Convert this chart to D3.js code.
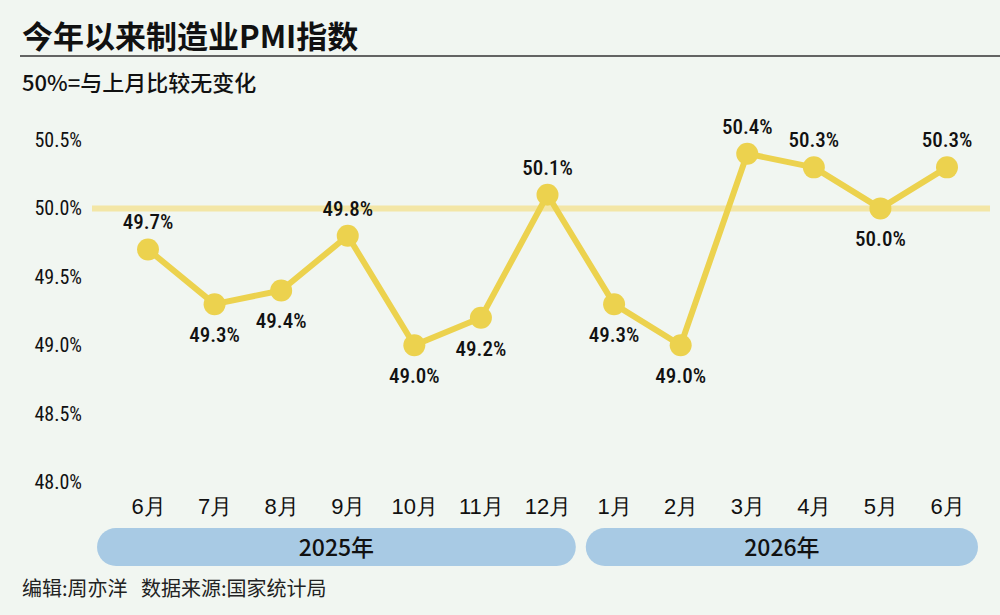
<!DOCTYPE html>
<html><head><meta charset="utf-8">
<script src="https://cdn.jsdelivr.net/npm/d3@7"></script>
<style>body{margin:0;background:#f1f6f1;font-family:"Noto Sans CJK SC","Noto Sans",sans-serif}</style>
</head><body><div class="chart"></div>
<script>
const months = ['6月','7月','8月','9月','10月','11月','12月','1月','2月','3月','4月','5月','6月'];
const pmi = [49.7,49.3,49.4,49.8,49.0,49.2,50.1,49.3,49.0,50.4,50.3,50.0,50.3];
const labelSide = ['up','down','down','up','down','down','up','down','down','up','up','down','up'];
const yTicks = [48.0,48.5,49.0,49.5,50.0,50.5];
const years = [{name:'2025年', from:0, to:6}, {name:'2026年', from:7, to:12}];

const width = 1000, height = 615;
const svg = d3.select('.chart').append('svg')
  .attr('width', width).attr('height', height)
  .style('background', '#f1f6f1');

const xScale = d3.scalePoint().domain(d3.range(months.length)).range([148, 947]);
const yScale = d3.scaleLinear().domain([48, 50.5]).range([482, 140]);

// title
svg.append('text').attr('x', 22).attr('y', 48).attr('font-size', 31).attr('font-weight', 700)
  .attr('fill', '#111').text('今年以来制造业PMI指数');
svg.append('line').attr('x1', 20).attr('x2', 1000).attr('y1', 56).attr('y2', 56)
  .attr('stroke', '#333').attr('stroke-width', 1.5);
svg.append('text').attr('x', 22).attr('y', 91).attr('font-size', 22).attr('font-weight', 500)
  .attr('fill', '#111').text('50%=与上月比较无变化');

// y axis
const yAxis = d3.axisLeft(yScale).tickValues(yTicks).tickFormat(d => d.toFixed(1) + '%').tickSize(0);
const yg = svg.append('g').attr('transform', 'translate(82,0)').call(yAxis);
yg.select('.domain').remove();
yg.selectAll('text').attr('font-size', 20).attr('font-family', '"Roboto Condensed", Roboto, sans-serif')
  .attr('fill', '#111').attr('x', 0).attr('text-anchor', 'end');

// 50% reference
svg.append('line').attr('x1', 92).attr('x2', 990).attr('y1', yScale(50)).attr('y2', yScale(50))
  .attr('stroke', '#f3e6a6').attr('stroke-width', 6);

// x axis
const xAxis = d3.axisBottom(xScale).tickFormat(i => months[i]).tickSize(0);
const xg = svg.append('g').attr('transform', 'translate(0,495)').call(xAxis);
xg.select('.domain').remove();
xg.selectAll('text').attr('font-size', 22).attr('fill', '#111').attr('font-weight', 500);

// year pills
const step = xScale.step();
years.forEach(y => {
  const x0 = y.from === 0 ? 97 : xScale(y.from) - step / 2 + 5;
  const x1 = y.to === months.length - 1 ? 978 : xScale(y.to) + step / 2 - 5;
  svg.append('rect').attr('x', x0).attr('y', 528).attr('width', x1 - x0).attr('height', 38)
    .attr('rx', 19).attr('fill', '#a8cae4');
  svg.append('text').attr('x', (x0 + x1) / 2).attr('y', 556).attr('text-anchor', 'middle')
    .attr('font-size', 23).attr('font-weight', 500).attr('fill', '#111').text(y.name);
});

// line
const line = d3.line().x((d, i) => xScale(i)).y(d => yScale(d));
svg.append('path').datum(pmi).attr('d', line).attr('fill', 'none')
  .attr('stroke', '#ecd24e').attr('stroke-width', 6).attr('stroke-linejoin', 'round');
svg.selectAll('circle.pt').data(pmi).enter().append('circle')
  .attr('cx', (d, i) => xScale(i)).attr('cy', d => yScale(d)).attr('r', 11).attr('fill', '#ecd24e');

svg.selectAll('text.lbl').data(pmi).enter().append('text')
  .attr('x', (d, i) => xScale(i))
  .attr('y', (d, i) => yScale(d) + (labelSide[i] === 'up' ? -20 : 38))
  .attr('text-anchor', 'middle').attr('font-size', 21).attr('font-weight', 500)
  .attr('font-family', '"Roboto Condensed", Roboto, sans-serif').attr('fill', '#111')
  .text(d => d.toFixed(1) + '%');

// footer
svg.append('text').attr('x', 22).attr('y', 596).attr('font-size', 20).attr('fill', '#222')
  .style('white-space', 'pre')
  .text('编辑:周亦洋   数据来源:国家统计局');
</script></body></html>
